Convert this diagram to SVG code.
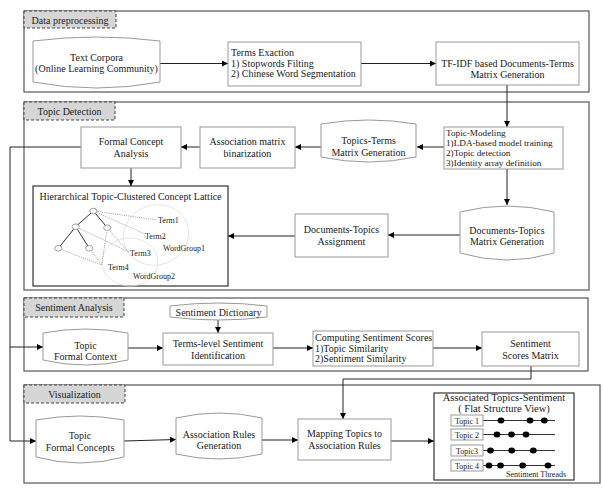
<svg xmlns="http://www.w3.org/2000/svg" width="603" height="490" viewBox="0 0 603 490">
<style>
text{font-family:"Liberation Serif","Times New Roman",serif;font-size:10px;fill:#1a1a1a}
.c{text-anchor:middle}
.sec{fill:none;stroke:#555;stroke-width:1.2}
.lab{fill:#d6d6d6;stroke:#444;stroke-width:1;stroke-dasharray:3,2}
.nd{fill:#fff;stroke:#999;stroke-width:1}
.dk{fill:#fff;stroke:#333;stroke-width:1.2}
.cn{fill:none;stroke:#222;stroke-width:1}
.ar{marker-end:url(#ah)}
.sm{font-size:8px}
.tm{font-size:9.2px}
.dot{fill:none;stroke:#888;stroke-width:0.8;stroke-dasharray:1,1.2}
.grp{fill:none;stroke:#e0e0e0;stroke-width:0.8}
.ln{stroke:#333;stroke-width:1}
.bd{fill:#000}
</style>
<defs>
<marker id="ah" viewBox="0 0 10 10" refX="10" refY="5" markerWidth="7" markerHeight="6" orient="auto" markerUnits="userSpaceOnUse"><path d="M0,0 L10,5 L0,10 z" fill="#000"/></marker>
</defs>

<g id="sections">
<rect class="sec" x="24" y="11" width="565" height="81"/>
<rect class="lab" x="24" y="11" width="92" height="17"/>
<text class="c" x="70" y="23.5">Data preprocessing</text>
<rect class="sec" x="24" y="102" width="565" height="188"/>
<rect class="lab" x="24" y="102" width="91" height="18"/>
<text class="c" x="69.5" y="115">Topic Detection</text>
<rect class="sec" x="24" y="298" width="564" height="73"/>
<rect class="lab" x="24" y="298" width="100" height="19"/>
<text class="c" x="74" y="311">Sentiment Analysis</text>
<rect class="sec" x="24" y="385" width="576" height="98"/>
<rect class="lab" x="24" y="385" width="101" height="18"/>
<text class="c" x="74.5" y="397.5">Visualization</text>
</g>

<g id="connectors">
<line class="cn ar" x1="160" y1="63.5" x2="228" y2="63.5"/>
<line class="cn ar" x1="361" y1="63.5" x2="436" y2="63.5"/>
<line class="cn ar" x1="507" y1="85" x2="507" y2="127"/>
<line class="cn ar" x1="444" y1="147" x2="417" y2="147"/>
<line class="cn ar" x1="321" y1="147" x2="295" y2="147"/>
<line class="cn ar" x1="200" y1="147" x2="181" y2="147"/>
<line class="cn ar" x1="131" y1="168" x2="131" y2="186"/>
<line class="cn ar" x1="507" y1="169" x2="507" y2="205"/>
<line class="cn ar" x1="460" y1="235" x2="388" y2="235"/>
<line class="cn ar" x1="295" y1="236" x2="228" y2="236"/>
<polyline class="cn ar" points="81,147 10,147 10,441 36,441"/>
<line class="cn ar" x1="10" y1="347" x2="43" y2="347"/>
<line class="cn ar" x1="218" y1="320" x2="218" y2="333"/>
<line class="cn ar" x1="128" y1="348" x2="163" y2="348"/>
<line class="cn ar" x1="273" y1="348" x2="313" y2="348"/>
<line class="cn ar" x1="433" y1="348" x2="482" y2="348"/>
<polyline class="cn ar" points="531,366 531,379 343,379 343,419"/>
<line class="cn ar" x1="124" y1="441" x2="176" y2="439.5"/>
<line class="cn ar" x1="262" y1="440" x2="298" y2="440"/>
<line class="cn ar" x1="391" y1="441" x2="434" y2="441"/>
</g>

<g id="text-corpora">
<path class="nd" d="M33,41 Q96.5,33 160,41 L160,82 Q96.5,94 33,82 Z"/>
<text class="c" x="96.5" y="61">Text Corpora</text>
<text class="c" x="96.5" y="72">(Online Learning Community)</text>
</g>
<g id="terms-exaction">
<rect class="nd" x="228" y="42" width="133" height="44"/>
<text x="231" y="56">Terms Exaction</text>
<text x="231" y="66.5">1) Stopwords Filting</text>
<text x="231" y="77">2) Chinese Word Segmentation</text>
</g>
<g id="tfidf">
<rect class="nd" x="436" y="42" width="143" height="43"/>
<text class="c" x="507.5" y="67">TF-IDF based Documents-Terms</text>
<text class="c" x="507.5" y="78">Matrix Generation</text>
</g>

<g id="fca">
<rect class="nd" x="81" y="127" width="100" height="41"/>
<text class="c" x="131" y="145">Formal Concept</text>
<text class="c" x="131" y="156.5">Analysis</text>
</g>
<g id="assoc-bin">
<rect class="nd" x="200" y="127" width="95" height="41"/>
<text class="c" x="247.5" y="145">Association matrix</text>
<text class="c" x="247.5" y="156.5">binarization</text>
</g>
<g id="topics-terms">
<path class="nd" d="M321,124 Q368.5,116 416,124 L416,157 Q368.5,167 321,157 Z"/>
<text class="c" x="368.5" y="144">Topics-Terms</text>
<text class="c" x="368.5" y="155.5">Matrix Generation</text>
</g>
<g id="topic-modeling">
<rect class="nd" x="444" y="127" width="119" height="42"/>
<text class="tm" x="446" y="135.5">Topic-Modeling</text>
<text class="tm" x="446" y="145.5">1)LDA-based model training</text>
<text class="tm" x="446" y="155.5">2)Topic detection</text>
<text class="tm" x="446" y="165.5">3)Identity array definition</text>
</g>
<g id="docs-topics-matrix">
<path class="nd" d="M460,212 Q507,200 554,212 L554,253 Q507,267 460,253 Z"/>
<text class="c" x="507" y="234">Documents-Topics</text>
<text class="c" x="507" y="245">Matrix Generation</text>
</g>
<g id="docs-topics-assign">
<rect class="nd" x="295" y="214" width="93" height="43"/>
<text class="c" x="341.5" y="233">Documents-Topics</text>
<text class="c" x="341.5" y="244.5">Assignment</text>
</g>
<g id="lattice">
<rect class="dk" x="33" y="186" width="195" height="100"/>
<text class="c" x="130.5" y="199.5">Hierarchical Topic-Clustered Concept Lattice</text>
<ellipse class="grp" cx="156" cy="235" rx="33" ry="30" transform="rotate(-20 156 235)"/>
<ellipse class="grp" cx="130" cy="262" rx="28" ry="24"/>
<line class="dot" x1="93.3" y1="211" x2="157" y2="220"/>
<line class="dot" x1="93.3" y1="211" x2="145" y2="234"/>
<line class="dot" x1="75.7" y1="226.7" x2="128.3" y2="251.7"/>
<line class="dot" x1="107.3" y1="227.7" x2="128.3" y2="251.7"/>
<line class="dot" x1="107.3" y1="227.7" x2="101.7" y2="265"/>
<line class="dot" x1="58.3" y1="248.3" x2="101.7" y2="265"/>
<line class="dot" x1="89.3" y1="248.3" x2="101.7" y2="265"/>
<line class="ln" x1="93.3" y1="211" x2="75.7" y2="226.7"/>
<line class="ln" x1="93.3" y1="211" x2="107.3" y2="227.7"/>
<line class="ln" x1="75.7" y1="226.7" x2="58.3" y2="248.3"/>
<line class="ln" x1="75.7" y1="226.7" x2="89.3" y2="248.3"/>
<g fill="#fff" stroke="#888" stroke-width="0.8">
<ellipse cx="93.3" cy="211" rx="3.6" ry="2.8"/>
<ellipse cx="75.7" cy="226.7" rx="3.6" ry="2.8"/>
<ellipse cx="107.3" cy="227.7" rx="3.6" ry="2.8"/>
<ellipse cx="58.3" cy="248.3" rx="3.6" ry="2.8"/>
<ellipse cx="89.3" cy="248.3" rx="3.6" ry="2.8"/>
</g>
<text class="sm" x="158" y="223">Term1</text>
<text class="sm" x="145" y="238.5">Term2</text>
<text class="sm" x="130" y="256">Term3</text>
<text class="sm" x="108" y="269.5">Term4</text>
<text class="sm" x="163" y="251">WordGroup1</text>
<text class="sm" x="133" y="279">WordGroup2</text>
</g>

<g id="sentiment-dictionary">
<path class="nd" d="M170,306 Q218.5,300 267,306 L267,317 Q218.5,323 170,317 Z"/>
<text class="c" x="218.5" y="316">Sentiment Dictionary</text>
</g>
<g id="topic-formal-context">
<path class="nd" d="M43,333 Q85.5,325 128,333 L128,360 Q85.5,370 43,360 Z"/>
<text class="c" x="85.5" y="349">Topic</text>
<text class="c" x="85.5" y="360">Formal Context</text>
</g>
<g id="terms-level">
<rect class="nd" x="163" y="333" width="110" height="32"/>
<text class="c" x="218" y="347">Terms-level Sentiment</text>
<text class="c" x="218" y="358.5">Identification</text>
</g>
<g id="computing">
<rect class="nd" x="313" y="331" width="120" height="35"/>
<text x="315" y="340.5">Computing Sentiment Scores</text>
<text x="315" y="351.5">1)Topic Similarity</text>
<text x="315" y="362">2)Sentiment Similarity</text>
</g>
<g id="scores-matrix">
<rect class="nd" x="482" y="332" width="97" height="34"/>
<text class="c" x="530.5" y="347">Sentiment</text>
<text class="c" x="530.5" y="358.5">Scores Matrix</text>
</g>

<g id="topic-formal-concepts">
<path class="nd" d="M36,420 Q80,412 124,420 L124,457 Q80,469 36,457 Z"/>
<text class="c" x="80" y="438.5">Topic</text>
<text class="c" x="80" y="450.5">Formal Concepts</text>
</g>
<g id="assoc-rules">
<path class="nd" d="M176,418 Q219,408 262,418 L262,454 Q219,464 176,454 Z"/>
<text class="c" x="219" y="438">Association Rules</text>
<text class="c" x="219" y="449">Generation</text>
</g>
<g id="mapping">
<rect class="nd" x="298" y="419" width="93" height="41"/>
<text class="c" x="344.5" y="437">Mapping Topics to</text>
<text class="c" x="344.5" y="448.5">Association Rules</text>
</g>
<g id="flat-view">
<rect class="dk" x="434" y="393" width="140" height="87"/>
<text class="c" x="504" y="401" style="font-size:10.5px">Associated Topics-Sentiment</text>
<text class="c" x="504" y="411.5" style="font-size:10.5px">( Flat Structure View)</text>
<line class="ln" x1="483" y1="420.5" x2="555" y2="420.5"/>
<line class="ln" x1="483" y1="434.5" x2="555" y2="434.5"/>
<line class="ln" x1="483" y1="450.5" x2="555" y2="450.5"/>
<line class="ln" x1="483" y1="465.5" x2="555" y2="465.5"/>
<rect class="nd" x="451" y="415" width="32" height="11"/>
<rect class="nd" x="451" y="429" width="32" height="11"/>
<rect class="nd" x="451" y="445" width="32" height="11"/>
<rect class="nd" x="451" y="460" width="32" height="11"/>
<text class="sm c" x="467" y="423.5">Topic 1</text>
<text class="sm c" x="467" y="437.5">Topic 2</text>
<text class="sm c" x="467" y="453.5">Topic3</text>
<text class="sm c" x="467" y="468.5">Topic 4</text>
<g class="bd">
<ellipse cx="501" cy="420.5" rx="3.4" ry="3"/>
<ellipse cx="530" cy="420.5" rx="3.4" ry="3"/>
<ellipse cx="544.3" cy="420.5" rx="3.4" ry="3"/>
<ellipse cx="497" cy="434.5" rx="3.4" ry="3"/>
<ellipse cx="511.5" cy="434.5" rx="3.4" ry="3"/>
<ellipse cx="526" cy="434.5" rx="3.4" ry="3"/>
<ellipse cx="490.5" cy="450.5" rx="3.4" ry="3"/>
<ellipse cx="511.7" cy="450.5" rx="3.4" ry="3"/>
<ellipse cx="533.3" cy="450.5" rx="3.4" ry="3"/>
<ellipse cx="489" cy="465.5" rx="3.4" ry="3"/>
<ellipse cx="500.5" cy="465.5" rx="3.4" ry="3"/>
<ellipse cx="522.7" cy="465.5" rx="3.4" ry="3"/>
<ellipse cx="548" cy="465.5" rx="3.4" ry="3"/>
</g>
<text class="sm" x="506" y="477">Sentiment Threads</text>
</g>
</svg>
